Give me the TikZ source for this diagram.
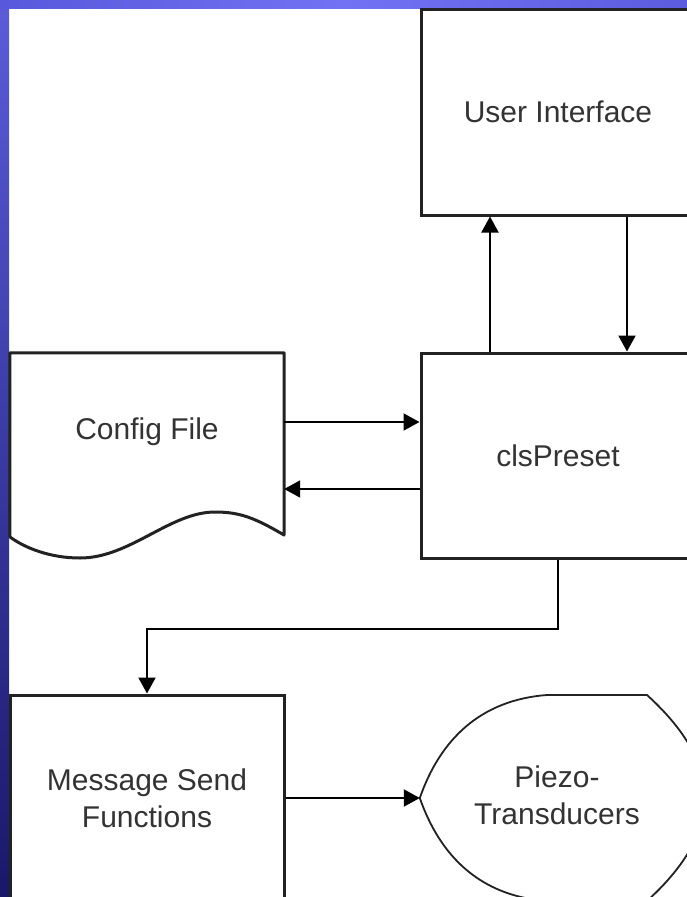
\documentclass[tikz,border=0pt]{standalone}
\usepackage{fontspec}
\setmainfont{Liberation Sans}
\usetikzlibrary{arrows.meta,calc}
\definecolor{bandtop}{HTML}{5C5CDA}
\definecolor{bandbot}{HTML}{18186A}
\definecolor{bandl}{HTML}{5858DC}
\definecolor{bandm}{HTML}{7272F4}
\definecolor{bandr}{HTML}{5C5CDE}
\definecolor{linec}{HTML}{222222}
\definecolor{txtc}{HTML}{333333}
\begin{document}
\begin{tikzpicture}[x=1pt,y=-1pt,
  txt/.style={inner sep=0pt, text=txtc, font=\fontsize{30}{37}\selectfont, align=center},
  box/.style={txt, draw=linec, line width=3pt, minimum width=274pt, minimum height=206pt},
  ghost/.style={inner sep=0pt, minimum width=274pt, minimum height=206pt},
  shapeline/.style={draw=linec, line width=2.4pt, line join=round},
  conn/.style={draw=black, line width=2pt, -{Triangle[length=16pt,width=17pt]}}]
\useasboundingbox (0,0) rectangle (687,897);
\fill[white] (0,0) rectangle (687,897);
\begin{scope}
\clip (0,0) rectangle (687,897);
\shade[top color=bandtop, bottom color=bandbot] (0,0) rectangle (9,897);
\shade[left color=bandl, right color=bandr, middle color=bandm] (0,0) rectangle (687,8);

% boxes
\node[box] (ui) at (558,112) {User Interface};
\node[box, minimum height=205pt] (cls) at (558,455.5) {clsPreset};
\node[box] (msg) at (147,798) {Message Send\\Functions};

% config file (document shape)
\node[ghost, minimum height=205pt] (cfg) at (147,455.5) {};
\node[txt] (cfgtext) at (147,432) {Config File};
\draw[shapeline, line width=3pt] (cfg.north west) -- (cfg.north east) -- (284,535)
  .. controls (255,518) and (240,512) .. (215,512)
  .. controls (170,512) and (130,558) .. (80,558)
  .. controls (50,558) and (25,548) .. (10,537) -- cycle;

% piezo transducers (display shape)
\node[ghost] (pz) at (557,798) {};
\node[txt] (pztext) at (557,795) {Piezo-\\Transducers};
\draw[shapeline, line width=1.8pt] (pz.west)
  .. controls (440,740) and (480,700) .. (547,695) -- (647,695)
  .. controls (680,725) and (705,760) .. (705,798)
  .. controls (705,836) and (680,871) .. (647,901) -- (547,901)
  .. controls (480,896) and (440,856) .. (pz.west) -- cycle;

% connectors
\draw[conn] ([xshift=-68pt]cls.north) -- ([xshift=-68pt]ui.south);
\draw[conn] ([xshift=69pt]ui.south) -- ([xshift=69pt]cls.north);
\draw[conn] ([yshift=33.5pt]cfg.east) -- ([yshift=33.5pt]cls.west);
\draw[conn] ([yshift=-33.5pt]cls.west) -- ([yshift=-33.5pt]cfg.east);
\draw[conn] (cls.south) -- ++(0,69) -| (msg.north);
\draw[conn] (msg.east) -- (pz.west);
\end{scope}
\end{tikzpicture}
\end{document}
